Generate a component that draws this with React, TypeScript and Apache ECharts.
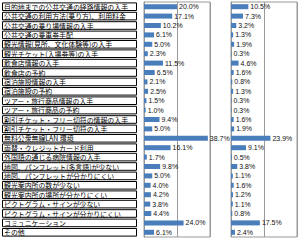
import React, { useEffect, useRef } from "react";
import * as echarts from "echarts";

const categories = [
  "目的地までの公共交通の経路情報の入手",
  "公共交通の利用方法(乗り方)、利用料金",
  "公共交通の乗り場情報の入手",
  "公共交通の乗車券手配",
  "観光情報(見所、文化体験等)の入手",
  "観光チケット(入場券等)の入手",
  "飲食店情報の入手",
  "飲食店の予約",
  "宿泊施設情報の入手",
  "宿泊施設の予約",
  "ツアー・旅行商品情報の入手",
  "ツアー・旅行商品の予約",
  "割引チケット・フリー切符の情報の入手",
  "割引チケット・フリー切符の入手",
  "無料公衆無線LAN 環境",
  "両替・クレジットカード利用",
  "外国語の通じる病院情報の入手",
  "地図、パンフレット(多言語)が少ない",
  "地図、パンフレットが分かりにくい",
  "観光案内所の数が少ない",
  "観光案内所の場所が分かりにくい",
  "ピクトグラム・サインが少ない",
  "ピクトグラム・サインが分かりにくい",
  "コミュニケーション",
  "その他",
];

const leftValues = [
  20.0, 17.1, 10.2, 6.1, 5.0, 2.3, 11.5, 6.5, 2.1, 2.5, 1.5, 1.0, 9.4, 5.0,
  38.7, 16.1, 1.7, 9.8, 5.0, 4.0, 4.2, 3.8, 4.4, 24.0, 6.1,
];

const rightValues = [
  10.5, 7.3, 3.2, 1.3, 1.9, 0.3, 4.6, 1.6, 0.8, 1.3, 0.3, 0.3, 1.6, 1.9,
  23.9, 9.1, 0.5, 3.8, 1.1, 1.6, 1.2, 1.1, 0.8, 17.5, 2.4,
];

const axisMax = 40;
const axisInterval = 20;

export default function App() {
  const ref = useRef<HTMLDivElement>(null);
  useEffect(() => {
    if (!ref.current) return;
    const chart = echarts.init(ref.current, null, { renderer: "svg" });
    const barColor = "#4a7ebb";
    const gridColor = "#999999";
    const valueLabel = {
      show: true,
      position: "right" as const,
      distance: 2,
      fontSize: 7,
      fontFamily: "Liberation Sans",
      color: "#111",
      formatter: (p: any) => p.value.toFixed(1) + "%",
    };
    const xAxisCommon = {
      type: "value" as const,
      min: 0,
      max: axisMax,
      interval: axisInterval,
      axisLabel: { show: false },
      axisTick: { show: false },
      axisLine: { show: false },
      splitLine: { show: true, lineStyle: { color: gridColor, width: 1 } },
    };
    const hiddenCat = (gridIndex: number) => ({
      type: "category" as const,
      gridIndex,
      data: categories,
      inverse: true,
      axisTick: { show: false },
      axisLine: { show: gridIndex !== 2, lineStyle: { color: gridColor } },
      axisLabel: { show: false },
    });
    chart.setOption({
      animation: false,
      grid: [
        { left: 144, width: 66, top: 2, bottom: 3, show: true, borderColor: gridColor, borderWidth: 1 },
        { left: 231, width: 66, top: 2, bottom: 3, show: true, borderColor: gridColor, borderWidth: 1 },
        { left: 2, width: 135, top: 2, bottom: 3 },
      ],
      xAxis: [
        { ...xAxisCommon, gridIndex: 0 },
        { ...xAxisCommon, gridIndex: 1 },
        { type: "value", gridIndex: 2, min: 0, max: 1, show: false },
      ],
      yAxis: [hiddenCat(0), hiddenCat(1), hiddenCat(2)],
      series: [
        {
          type: "bar",
          xAxisIndex: 0,
          yAxisIndex: 0,
          data: leftValues,
          barWidth: 5,
          itemStyle: { color: barColor },
          label: valueLabel,
        },
        {
          type: "bar",
          xAxisIndex: 1,
          yAxisIndex: 1,
          data: rightValues,
          barWidth: 5,
          itemStyle: { color: barColor },
          label: valueLabel,
        },
        {
          type: "bar",
          xAxisIndex: 2,
          yAxisIndex: 2,
          data: categories.map(() => 1),
          barWidth: 8.6,
          silent: true,
          itemStyle: { color: "#fff", borderColor: "#000", borderWidth: 1 },
          label: {
            show: true,
            position: "insideLeft",
            distance: 2,
            fontSize: 6.9,
            fontFamily: "Noto Sans CJK JP",
            color: "#000",
            formatter: (p: any) => p.name,
          },
        },
      ],
    });
    return () => chart.dispose();
  }, []);
  return <div ref={ref} style={{ width: 300, height: 240, position: "absolute", left: 0, top: 0, background: "#fff" }} />;
}
